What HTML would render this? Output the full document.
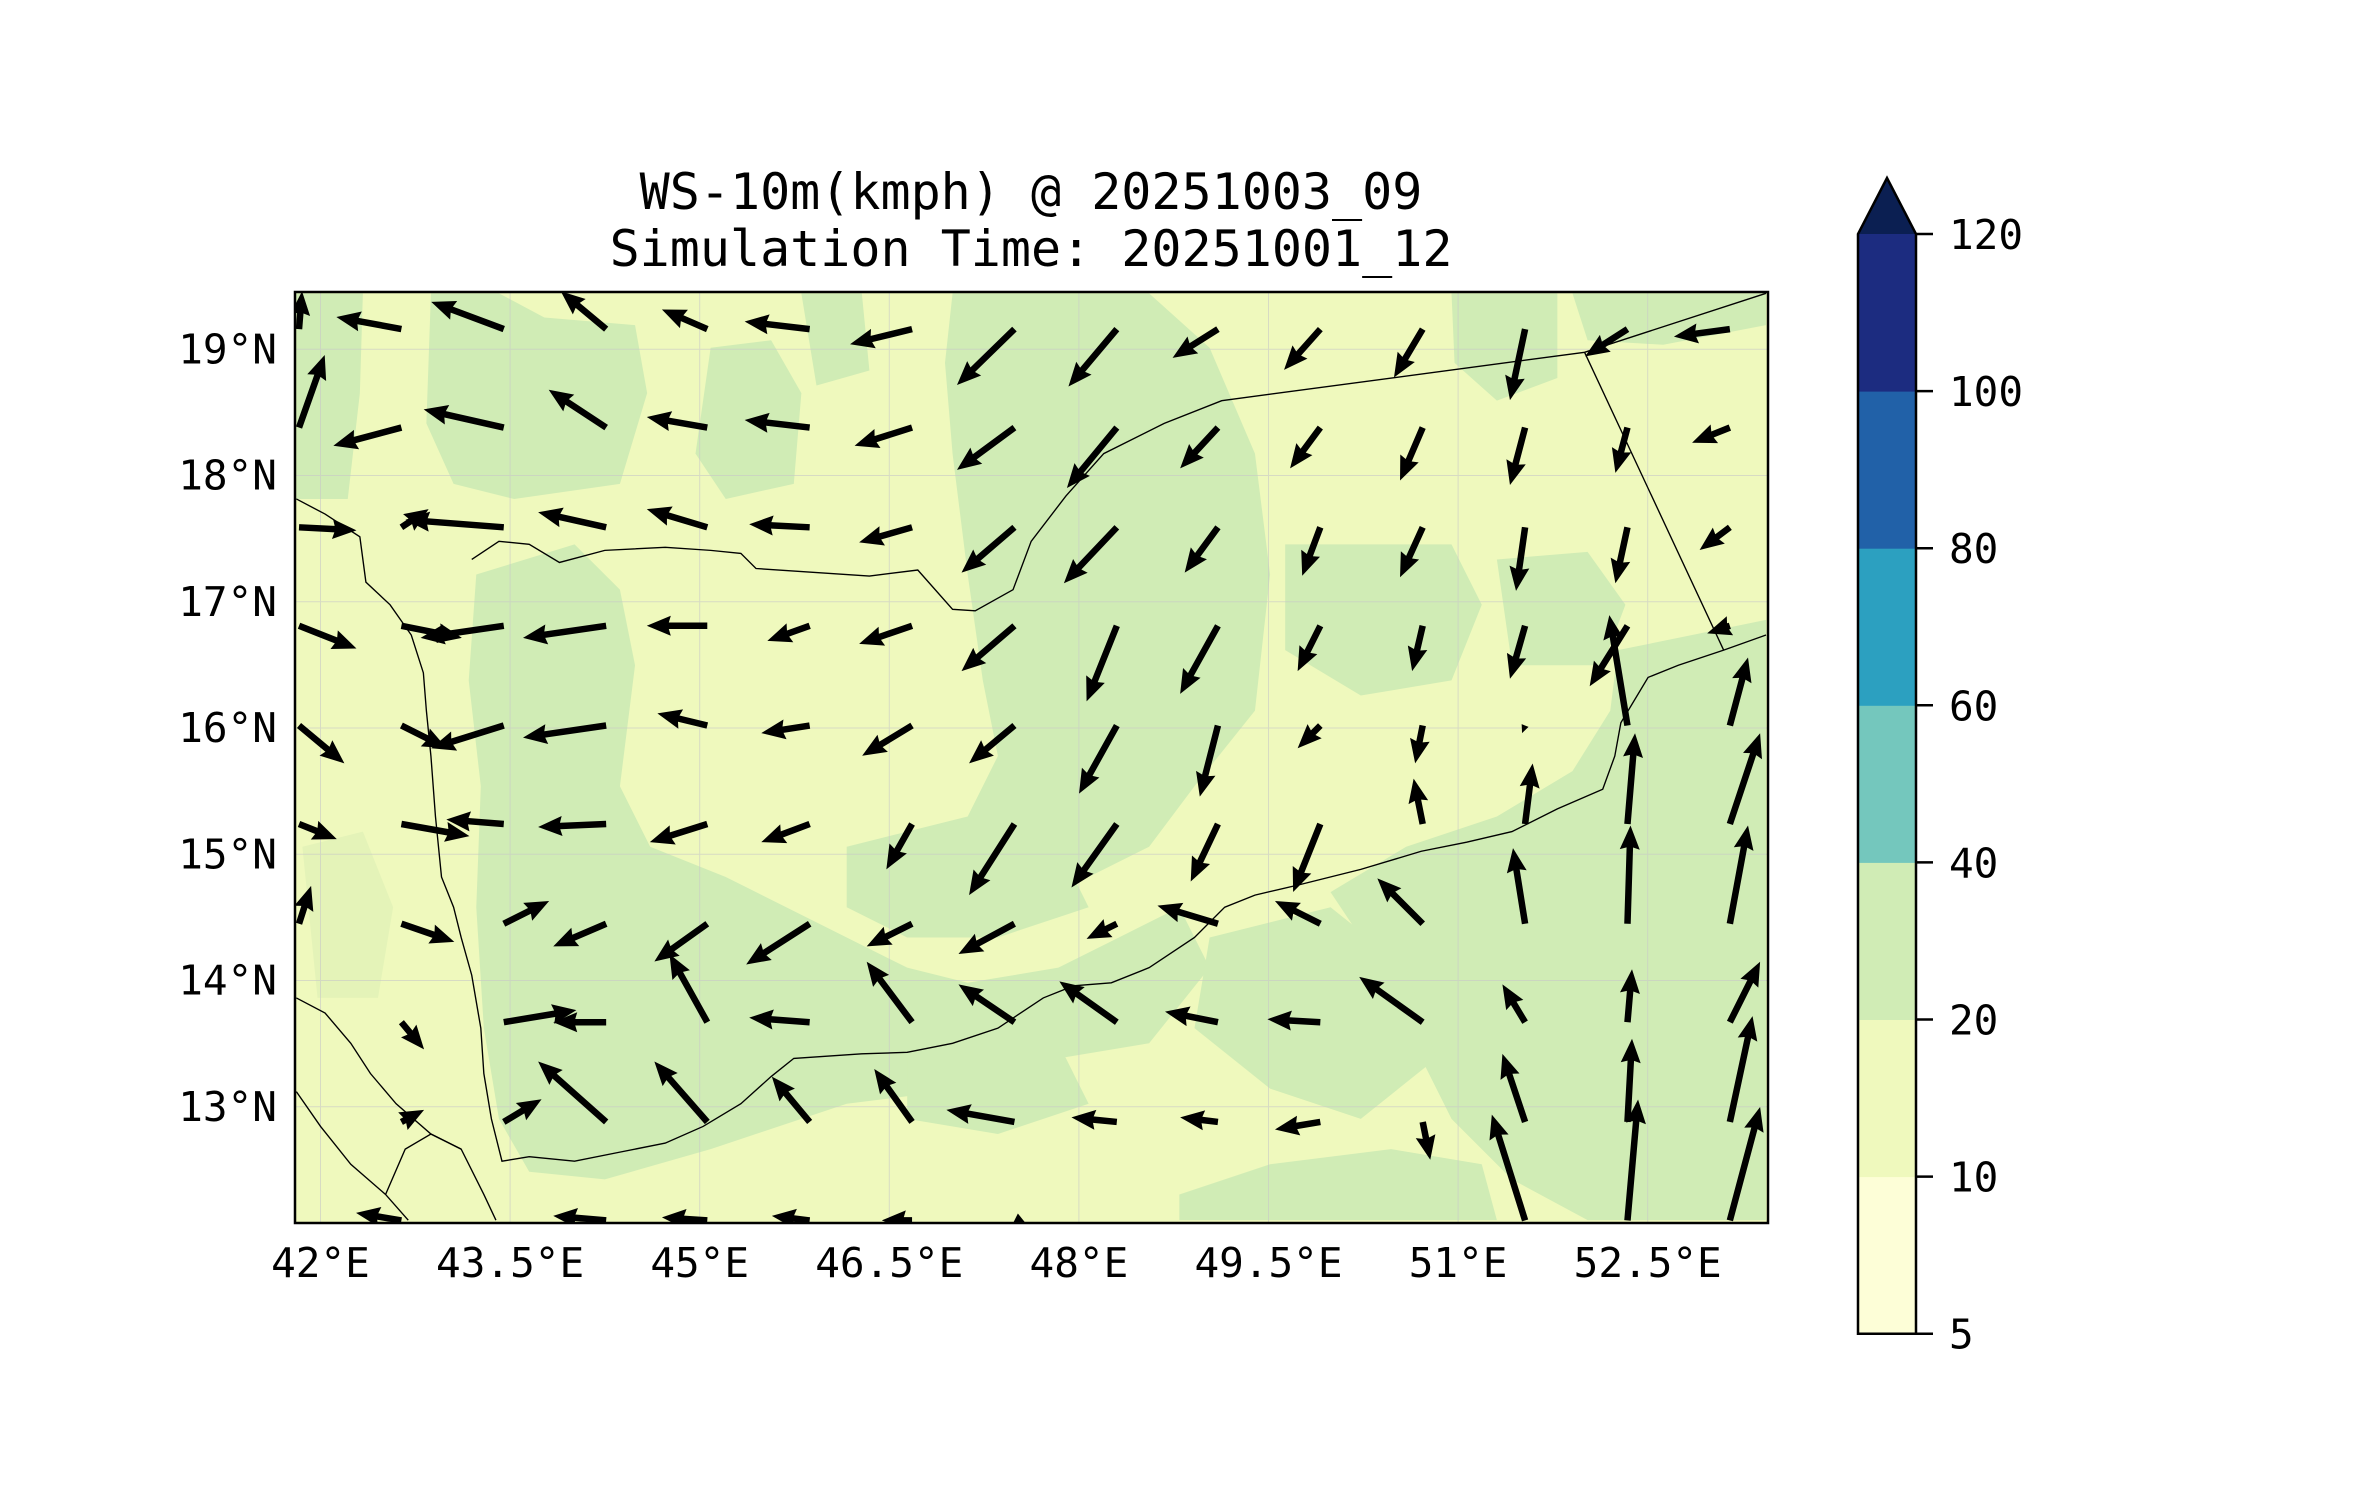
<!DOCTYPE html>
<html><head><meta charset="utf-8">
<style>
html,body{margin:0;padding:0;background:#fff;}
svg{display:block;font-family:"DejaVu Sans Mono","Liberation Mono",monospace;}
</style></head>
<body>
<svg id="chart" width="2371" height="1500" viewBox="0 0 2371 1500" xmlns="http://www.w3.org/2000/svg">
<defs><clipPath id="plotclip"><rect x="295" y="292" width="1473" height="931"/></clipPath></defs>
<text x="1031" y="209" font-size="50" text-anchor="middle">WS-10m(kmph) @ 20251003_09</text>
<text x="1031" y="266" font-size="50" text-anchor="middle">Simulation Time: 20251001_12</text>
<g clip-path="url(#plotclip)">
<rect x="295" y="292" width="1473" height="931" fill="#eff9bd"/>
<g transform="scale(1.512)" fill="#d0ecb5">
<path d="M196,194 L240,194 L238,260 L230,330 L196,330 Z"/>
<path d="M285,194 L330,194 L360,210 L420,215 L428,260 L410,320 L340,330 L300,320 L282,280 Z"/>
<path d="M470,230 L510,225 L530,260 L525,320 L480,330 L460,300 Z"/>
<path d="M530,194 L570,194 L575,245 L540,255 Z"/>
<path d="M630,194 L760,194 L800,230 L830,300 L840,380 L830,470 L790,520 L760,560 L700,590 L640,600 L610,580 L640,540 L660,500 L650,450 L640,380 L630,300 L625,240 Z"/>
<path d="M315,380 L380,360 L410,390 L420,440 L410,520 L430,560 L480,580 L520,600 L560,620 L600,640 L640,650 L700,640 L740,620 L780,600 L800,640 L760,690 L700,700 L640,720 L560,730 L470,760 L400,780 L350,775 L330,740 L320,680 L315,600 L318,520 L310,450 Z"/>
<path d="M560,560 L640,540 L700,560 L720,600 L660,620 L600,620 L560,600 Z"/>
<path d="M850,360 L960,360 L980,400 L960,450 L900,460 L850,430 Z"/>
<path d="M960,194 L1030,194 L1030,250 L990,265 L962,240 Z"/>
<path d="M1040,194 L1168,194 L1168,215 L1100,228 L1050,225 Z"/>
<path d="M990,370 L1050,365 L1075,400 L1060,440 L1000,440 Z"/>
<path d="M1070,430 L1168,410 L1168,807 L1050,807 L1000,780 L960,740 L940,700 L930,650 L900,620 L880,590 L930,560 L990,540 L1040,510 L1065,470 Z"/>
<path d="M800,620 L880,600 L930,640 L950,700 L900,740 L840,720 L790,680 Z"/>
<path d="M780,790 L840,770 L920,760 L980,770 L990,807 L780,807 Z"/>
<path d="M600,700 L700,690 L720,730 L660,750 L600,740 Z"/>
<path d="M200,560 L240,550 L260,600 L250,660 L210,660 Z" fill="#e4f3b8"/>
</g>
<g id="gridg" stroke="#c8c8c8" stroke-width="1" opacity="0.6"></g>
<g transform="scale(1.512)" fill="none" stroke="#000" stroke-width="0.9">
<path d="M196,330 L215,340 L238,355 L242,385 L258,400 L272,420 L280,445 L282,470 L285,500 L288,540 L290,560 L292,580 L300,600 L305,620 L312,645 L318,680 L320,710 L325,740 L332,768 L350,765 L380,768 L410,762 L440,756 L465,745 L490,730 L510,712 L525,700 L570,697 L600,696 L630,690 L660,680 L690,660 L710,652 L735,650 L760,640 L790,620 L810,600 L830,592 L860,585 L900,575 L940,563 L970,557 L1000,550 L1030,535 L1060,522 L1068,500 L1072,478 L1090,448 L1110,440 L1140,430 L1168,420"/>
<path d="M312,370 L330,358 L350,360 L370,372 L400,364 L440,362 L470,364 L490,366 L500,376 L575,381 L607,377 L630,403 L645,404 L670,390 L682,358 L705,328 L730,300 L770,280 L808,265 L1048,233 L1168,194"/>
<path d="M1048,233 L1140,430"/>
<path d="M196,660 L215,670 L232,690 L245,710 L262,730 L285,750 L305,760 L320,790 L328,807"/>
<path d="M196,722 L212,745 L232,770 L255,790 L270,807"/>
<path d="M305,760 L285,750 L268,760 L255,790"/>
</g>
<g id="arrows"></g>
</g>
<rect x="295" y="292" width="1473" height="931" fill="none" stroke="#000" stroke-width="2.5"/>
<g id="xaxis" font-size="41" text-anchor="middle"></g>
<g id="yaxis" font-size="41" text-anchor="end"></g>
<g id="cbar"></g>
</svg>
<script>
const NS="http://www.w3.org/2000/svg";
// axes data
const xTicks=[42,43.5,45,46.5,48,49.5,51,52.5];
const xTickLabels=["42°E","43.5°E","45°E","46.5°E","48°E","49.5°E","51°E","52.5°E"];
const yTicks=[19,18,17,16,15,14,13];
const yTickLabels=["19°N","18°N","17°N","16°N","15°N","14°N","13°N"];
// colorbar data
const cbLevels=[5,10,20,40,60,80,100,120];
const cbColors=["#fdfed7","#eff9bd","#d0ecb5","#74c7bd","#2ca0c0","#2161a8","#1c2c80"];
// quiver grid
const qLons=[41.83,42.64,43.45,44.26,45.06,45.87,46.68,47.49,48.30,49.10,49.91,50.72,51.53,52.34,53.15];
const qLats=[19.16,18.38,17.59,16.81,16.02,15.24,14.45,13.67,12.88,12.10];
// u (east) and v (north) components, one row per latitude
const qU=[
[2,-43,-48,-30,-30,-43,-41,-38,-32,-30,-24,-19,-10,-28,-37],
[17,-45,-53,-38,-40,-43,-38,-38,-33,-25,-20,-15,-10,-8,-25],
[38,18,-65,-45,-40,-40,-35,-35,-35,-22,-12,-15,-6,-8,-20],
[38,40,-55,-55,-40,-28,-35,-35,-20,-25,-15,-7,-10,-25,-15],
[30,30,-48,-55,-33,-32,-33,-30,-25,-12,-15,-5,-2,-12,12],
[25,45,-38,-45,-38,-32,-17,-30,-30,-18,-18,-6,5,5,20],
[8,35,30,-35,-35,-42,-30,-37,-20,-40,-30,-30,-8,2,12],
[0,15,48,-35,-25,-40,-30,-37,-38,-35,-35,-42,-15,3,20],
[0,15,25,-45,-35,-25,-25,-45,-30,-25,-30,5,-15,3,15],
[0,-30,0,-35,-30,-25,-20,10,0,0,0,0,-22,7,20]];
const qV=[
[25,8,18,25,13,5,-10,-37,-38,-19,-27,-32,-47,-18,-5],
[48,-12,12,25,7,5,-12,-28,-40,-27,-27,-35,-38,-30,-10],
[-2,12,5,10,12,2,-10,-30,-37,-30,-32,-33,-42,-37,-15],
[-15,-8,-8,-8,0,-10,-12,-30,-50,-45,-30,-30,-35,-40,-5],
[-25,-15,-15,-8,8,-5,-20,-25,-45,-47,-15,-25,-5,73,45],
[-10,-8,3,-2,-12,-12,-30,-47,-42,-38,-45,30,40,60,60],
[25,-12,15,-15,-25,-27,-15,-20,-10,12,15,30,50,65,65],
[0,-18,8,0,45,3,40,25,27,7,2,30,25,35,40],
[0,8,15,40,40,30,35,8,3,3,-5,-25,45,55,70],
[0,5,0,3,2,3,0,-5,0,0,0,0,70,80,75]];

function xOf(lon){return 320.5+(lon-42)*126.4;}
function yOf(lat){return 349.3+(19-lat)*126.25;}
const SC=1.512;

const xg=document.getElementById('xaxis');
const yg=document.getElementById('yaxis');
const gg=document.getElementById('gridg');
xTicks.forEach((t,i)=>{
  const x=xOf(t);
  const l=document.createElementNS(NS,'line');
  l.setAttribute('x1',x);l.setAttribute('x2',x);l.setAttribute('y1',292);l.setAttribute('y2',1223);
  
  
  gg.appendChild(l);
  const tx=document.createElementNS(NS,'text');
  tx.setAttribute('x',x);tx.setAttribute('y',1277);tx.textContent=xTickLabels[i];
  
  
  xg.appendChild(tx);
});
yTicks.forEach((t,i)=>{
  const y=yOf(t);
  const l=document.createElementNS(NS,'line');
  l.setAttribute('x1',295);l.setAttribute('x2',1768);l.setAttribute('y1',y);l.setAttribute('y2',y);
  
  
  gg.appendChild(l);
  const tx=document.createElementNS(NS,'text');
  tx.setAttribute('x',277);tx.setAttribute('y',y+14);tx.textContent=yTickLabels[i];
  
  
  yg.appendChild(tx);
});

// arrows
const ag=document.getElementById('arrows');
const w=6.5, hl=22, hw=10;
qLats.forEach((lat,j)=>{
  qLons.forEach((lon,i)=>{
    const u=qU[j][i]*SC, v=qV[j][i]*SC;
    const L=Math.hypot(u,v);
    if(L<1) return;
    const x0=xOf(lon), y0=yOf(lat);
    const ang=Math.atan2(-v,u)*180/Math.PI;
    let pts;
    if(L>hl){
      pts=[[0,-w/2],[L-hl,-w/2],[L-hl-2,-hw],[L,0],[L-hl-2,hw],[L-hl,w/2],[0,w/2]];
    } else {
      const s=L/hl;
      pts=[[0,-w/2*s],[L,0],[0,w/2*s],[0,-hw*s],[L,0],[0,hw*s]];
    }
    const p=document.createElementNS(NS,'polygon');
    p.setAttribute('points',pts.map(q=>q.join(',')).join(' '));
    p.setAttribute('transform',`translate(${x0},${y0}) rotate(${ang})`);
    p.setAttribute('fill','#000');
    
    
    ag.appendChild(p);
  });
});

// colorbar
const cb=document.getElementById('cbar');
const cbX=1858, cbW=58, cbTop=234, seg=157.1;
const cbBottom=cbTop+seg*(cbLevels.length-1);
function cbY(k){return cbBottom-k*seg;}
cbColors.forEach((c,k)=>{
  const r=document.createElementNS(NS,'rect');
  r.setAttribute('x',cbX);r.setAttribute('y',cbY(k+1));r.setAttribute('width',cbW);r.setAttribute('height',seg+0.5);
  r.setAttribute('fill',c);
  
  
  cb.appendChild(r);
});
const tri=document.createElementNS(NS,'polygon');
tri.setAttribute('points',`${cbX},${cbTop} ${cbX+cbW/2},178 ${cbX+cbW},${cbTop}`);
tri.setAttribute('fill','#0b1f52');


cb.appendChild(tri);
const out=document.createElementNS(NS,'polygon');
out.setAttribute('points',`${cbX},${cbBottom} ${cbX},${cbTop} ${cbX+cbW/2},178 ${cbX+cbW},${cbTop} ${cbX+cbW},${cbBottom}`);
out.setAttribute('fill','none');out.setAttribute('stroke','#000');out.setAttribute('stroke-width','2.5');


cb.appendChild(out);
cbLevels.forEach((lv,k)=>{
  const y=cbY(k);
  const t=document.createElementNS(NS,'line');
  t.setAttribute('x1',cbX+cbW);t.setAttribute('x2',cbX+cbW+17);t.setAttribute('y1',y);t.setAttribute('y2',y);
  t.setAttribute('stroke','#000');t.setAttribute('stroke-width','2.5');
  
  
  cb.appendChild(t);
  const tx=document.createElementNS(NS,'text');
  tx.setAttribute('x',1949);tx.setAttribute('y',y+15);tx.setAttribute('font-size','41');
  tx.textContent=lv;
  
  
  cb.appendChild(tx);
});
</script>
</body></html>
